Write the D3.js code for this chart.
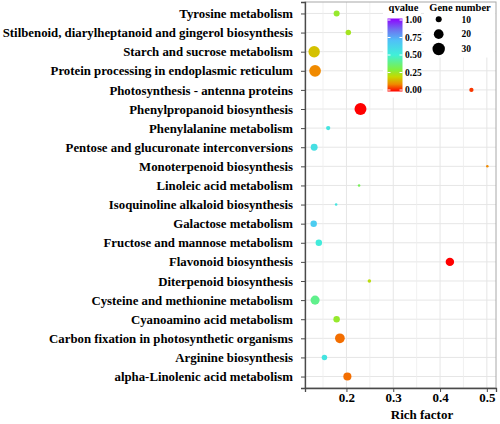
<!DOCTYPE html>
<html><head><meta charset="utf-8">
<script src="https://cdn.jsdelivr.net/npm/d3@7"></script>
<style>html,body{margin:0;padding:0;background:#fff;}svg{display:block;}</style>
</head><body>
<svg id="c" width="500" height="424"></svg>
<script>
const categories = ["Tyrosine metabolism","Stilbenoid, diarylheptanoid and gingerol biosynthesis","Starch and sucrose metabolism","Protein processing in endoplasmic reticulum","Photosynthesis - antenna proteins","Phenylpropanoid biosynthesis","Phenylalanine metabolism","Pentose and glucuronate interconversions","Monoterpenoid biosynthesis","Linoleic acid metabolism","Isoquinoline alkaloid biosynthesis","Galactose metabolism","Fructose and mannose metabolism","Flavonoid biosynthesis","Diterpenoid biosynthesis","Cysteine and methionine metabolism","Cyanoamino acid metabolism","Carbon fixation in photosynthetic organisms","Arginine biosynthesis","alpha-Linolenic acid metabolism"];
const richFactor = [0.179,0.204,0.131,0.133,0.467,0.230,0.161,0.131,0.501,0.227,0.178,0.130,0.141,0.421,0.249,0.133,0.179,0.186,0.153,0.202];
const geneNumber = [10,9,26,27,7,28,7,12,5,5,5,11,11,16,6,18,11,20,9,15];
const qvalue = [0.27,0.25,0.17,0.10,0.04,0.0,0.55,0.57,0.10,0.33,0.55,0.65,0.52,0.0,0.22,0.40,0.27,0.08,0.55,0.08];
const xTicks = [0.2,0.3,0.4,0.5];
const xMinor = [0.15,0.25,0.35,0.45];
const qTicks = [0,0.25,0.5,0.75,1];
const sizeBreaks = [10,20,30];
const colorStops = [0,0.1,0.2,0.3,0.5,0.7,0.85,1];
const colorValues = ["#FF0000","#F08A00","#C8D800","#80F040","#40F0D8","#50C0F8","#6F70F0","#8F00FF"];

const svg = d3.select("#c");
const font = "'Liberation Serif','Times New Roman',serif";
const P = {l:305, r:496, t:2, b:388};

const ext = d3.extent(richFactor);
const pad = (ext[1]-ext[0])*0.05;
const x = d3.scaleLinear().domain([ext[0]-pad, ext[1]+pad]).range([P.l, P.r]);
const y = d3.scalePoint().domain(categories).range([P.t, P.b]).padding(0.6);
const color = d3.scaleLinear().domain(colorStops).range(colorValues).clamp(true);
const size = d3.scaleRadial().domain([10,30]).range([3,6.2]);

// panel
svg.append("rect").attr("x",P.l).attr("y",P.t).attr("width",P.r-P.l).attr("height",P.b-P.t).attr("fill","#fff");
const g = svg.append("g");
g.selectAll(".hg").data(categories).join("line").attr("x1",P.l).attr("x2",P.r)
  .attr("y1",d=>y(d)).attr("y2",d=>y(d)).attr("stroke","#E6E6E6").attr("stroke-width",1);
g.selectAll(".vm").data(xMinor).join("line").attr("y1",P.t).attr("y2",P.b)
  .attr("x1",d=>x(d)).attr("x2",d=>x(d)).attr("stroke","#EEEEEE").attr("stroke-width",0.8);
g.selectAll(".vg").data(xTicks).join("line").attr("y1",P.t).attr("y2",P.b)
  .attr("x1",d=>x(d)).attr("x2",d=>x(d)).attr("stroke","#E6E6E6").attr("stroke-width",1);

// legend backgrounds
svg.append("rect").attr("x",383).attr("y",P.t+0.5).attr("width",38).attr("height",95).attr("fill","#fff");
svg.append("rect").attr("x",424).attr("y",P.t+0.5).attr("width",P.r-424-0.5).attr("height",55).attr("fill","#fff");

// points
const data = categories.map((c,i)=>({c, rf:richFactor[i], n:geneNumber[i], q:qvalue[i]}));
svg.append("g").selectAll("circle").data(data).join("circle")
  .attr("cx",d=>x(d.rf)).attr("cy",d=>y(d.c)).attr("r",d=>size(d.n))
  .attr("fill",d=>color(d.q));

// border
svg.append("rect").attr("x",P.l).attr("y",P.t).attr("width",P.r-P.l).attr("height",P.b-P.t)
  .attr("fill","none").attr("stroke","#A8A8A8").attr("stroke-width",1);

// axes
const yAxis = d3.axisLeft(y).tickSize(4).tickPadding(8);
const ya = svg.append("g").attr("transform",`translate(${P.l},0)`).call(yAxis);
ya.select(".domain").attr("stroke","#4a4a4a").attr("stroke-width",1.3);
ya.selectAll(".tick line").attr("stroke","#4a4a4a");
ya.selectAll("text").attr("font-family",font).attr("font-weight","bold").attr("font-size","12.8px").attr("fill","#000");

const xAxis = d3.axisBottom(x).tickValues(xTicks).tickFormat(d3.format(".1f")).tickSize(4).tickPadding(0.5);
const xa = svg.append("g").attr("transform",`translate(0,${P.b})`).call(xAxis);
xa.select(".domain").attr("stroke","#4a4a4a").attr("stroke-width",1.3);
xa.selectAll(".tick line").attr("stroke","#4a4a4a");
xa.selectAll("text").attr("font-family",font).attr("font-weight","bold").attr("font-size","13px").attr("fill","#000");

svg.append("text").attr("x",422).attr("y",419).attr("text-anchor","middle")
  .attr("font-family",font).attr("font-weight","bold").attr("font-size","13px").text("Rich factor");

// qvalue legend
const defs = svg.append("defs");
const grad = defs.append("linearGradient").attr("id","qg").attr("x1",0).attr("y1",1).attr("x2",0).attr("y2",0);
grad.selectAll("stop").data(colorStops).join("stop").attr("offset",d=>d).attr("stop-color",(d,i)=>colorValues[i]);
const cb = {x:387.5, y0:18.5, y1:91.5, w:15};
const qy = d3.scaleLinear().domain([0,1]).range([cb.y1-1.5, cb.y0+1.5]);
svg.append("rect").attr("x",cb.x).attr("y",cb.y0).attr("width",cb.w).attr("height",cb.y1-cb.y0).attr("fill","url(#qg)");
svg.append("text").attr("x",403.5).attr("y",10.5).attr("text-anchor","middle")
  .attr("font-family",font).attr("font-weight","bold").attr("font-size","10.5px").text("qvalue");
const ql = svg.append("g");
ql.selectAll("line.a").data(qTicks).join("line").attr("x1",cb.x).attr("x2",cb.x+3).attr("y1",d=>qy(d)).attr("y2",d=>qy(d)).attr("stroke","#fff");
ql.selectAll("line.b").data(qTicks).join("line").attr("x1",cb.x+cb.w-3).attr("x2",cb.x+cb.w).attr("y1",d=>qy(d)).attr("y2",d=>qy(d)).attr("stroke","#fff");
ql.selectAll("text").data(qTicks).join("text").attr("x",405).attr("y",d=>qy(d)).attr("dy","0.35em")
  .attr("font-family",font).attr("font-weight","bold").attr("font-size","9.5px").text(d=>d3.format(".2f")(d));

// size legend
svg.append("text").attr("x",460).attr("y",10.5).attr("text-anchor","middle")
  .attr("font-family",font).attr("font-weight","bold").attr("font-size","10.5px").text("Gene number");
const sy = d3.scalePoint().domain(sizeBreaks).range([19.3,49]);
const sl = svg.append("g");
sl.selectAll("circle").data(sizeBreaks).join("circle").attr("cx",438.7).attr("cy",d=>sy(d)).attr("r",d=>size(d)).attr("fill","#000");
sl.selectAll("text").data(sizeBreaks).join("text").attr("x",461.5).attr("y",d=>sy(d)).attr("dy","0.35em")
  .attr("font-family",font).attr("font-weight","bold").attr("font-size","9.5px").text(d=>d);
</script>
</body></html>
